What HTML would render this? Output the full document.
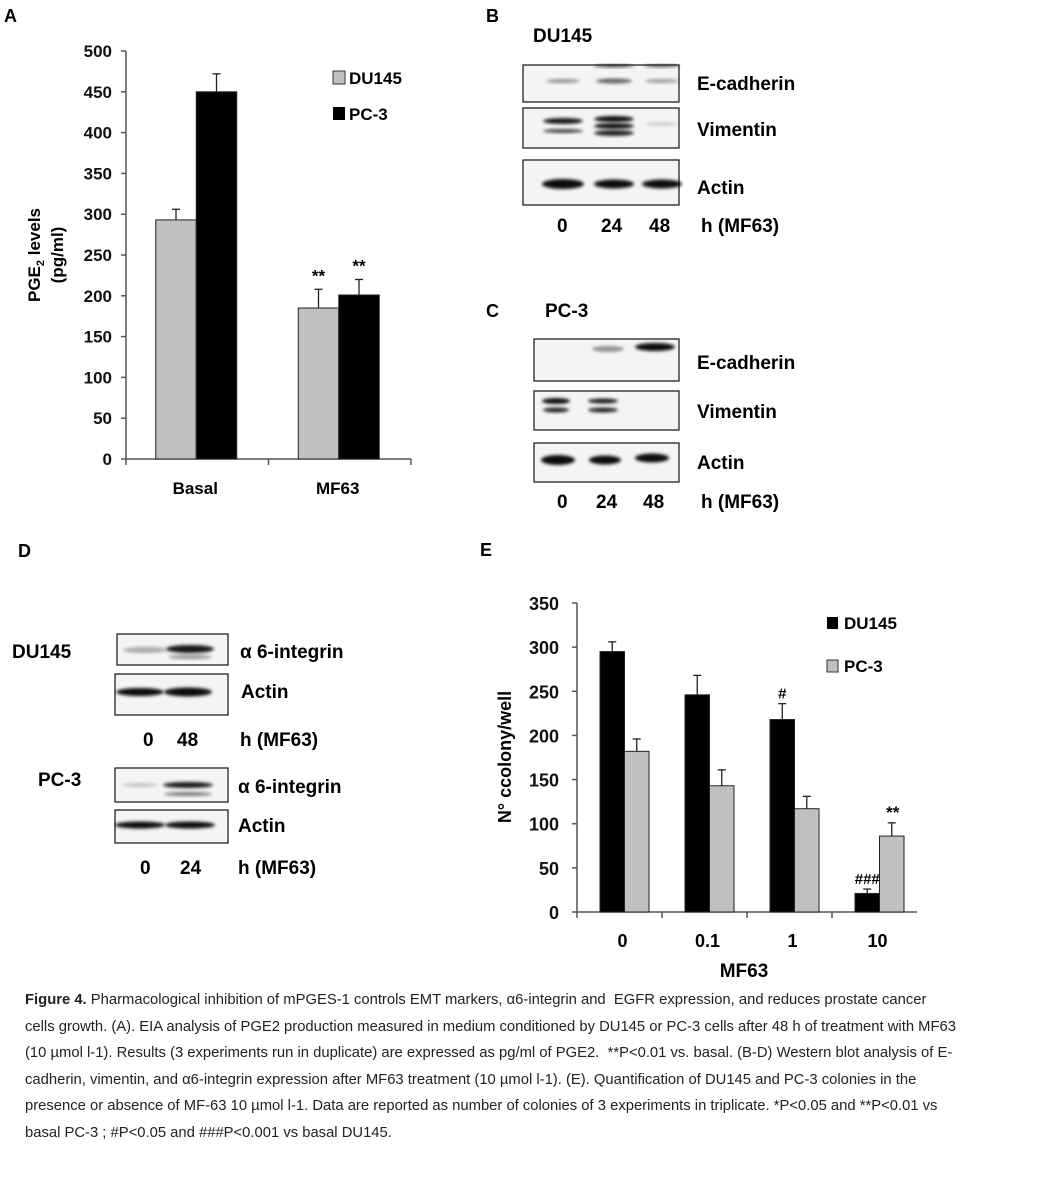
<!DOCTYPE html>
<html><head><meta charset="utf-8"><style>
body{margin:0;background:#fff;width:1048px;height:1181px;overflow:hidden;position:relative;font-family:"Liberation Sans",sans-serif}
svg{position:absolute;left:0;top:0}
.cap{position:absolute;left:25px;font-size:14.8px;color:#222;white-space:nowrap;line-height:17px}
</style></head><body>
<svg id="fig" width="1048" height="1181" font-family="Liberation Sans, sans-serif" font-weight="bold">
<defs><filter id="bl" x="-20%" y="-50%" width="140%" height="200%"><feGaussianBlur stdDeviation="1.6"/></filter></defs>
<g id="chartA"></g>
<g id="chartE"></g>
<g id="blots"></g>
</svg>
<div class="cap" style="top:992px"><b>Figure 4.</b> Pharmacological inhibition of mPGES-1 controls EMT markers, α6-integrin and &nbsp;EGFR expression, and reduces prostate cancer</div>
<div class="cap" style="top:1018.5px">cells growth. (A). EIA analysis of PGE2 production measured in medium conditioned by DU145 or PC-3 cells after 48 h of treatment with MF63</div>
<div class="cap" style="top:1045px">(10 µmol l-1). Results (3 experiments run in duplicate) are expressed as pg/ml of PGE2. &nbsp;**P&lt;0.01 vs. basal. (B-D) Western blot analysis of E-</div>
<div class="cap" style="top:1071.5px">cadherin, vimentin, and α6-integrin expression after MF63 treatment (10 µmol l-1). (E). Quantification of DU145 and PC-3 colonies in the</div>
<div class="cap" style="top:1098px">presence or absence of MF-63 10 µmol l-1. Data are reported as number of colonies of 3 experiments in triplicate. *P&lt;0.05 and **P&lt;0.01 vs</div>
<div class="cap" style="top:1124.5px">basal PC-3 ; #P&lt;0.05 and ###P&lt;0.001 vs basal DU145.</div>
<script>
const NS="http://www.w3.org/2000/svg";
// Panel A data
const aCategories=["Basal","MF63"];
const aDU145=[293,185];
const aDU145Err=[13,23];
const aPC3=[450,201];
const aPC3Err=[22,19];
const aTicks=[0,50,100,150,200,250,300,350,400,450,500];
const aStars=["","**"];
// Panel E data
const eCategories=["0","0.1","1","10"];
const eDU145=[295,246,218,21];
const eDU145Err=[11,22,18,5];
const ePC3=[182,143,117,86];
const ePC3Err=[14,18,14,15];
const eTicks=[0,50,100,150,200,250,300,350];
const eDUMarks=["","","#","###"];
const ePCMarks=["","","","**"];

function el(p,tag,at,txt){const e=document.createElementNS(NS,tag);for(const k in at)e.setAttribute(k,at[k]);if(txt!==undefined)e.textContent=txt;p.appendChild(e);return e;}

// ---- Chart A
(function(){
const g=document.getElementById('chartA');
const x0=126,x1=411,y0=459,yTop=51,max=500;
const y=v=>y0-(v/max)*(y0-yTop);
const gw=(x1-x0)/aCategories.length, bw=40.5;
let t=el(g,'text',{x:4,y:22,'font-size':18},'A');

let ax=el(g,'line',{x1:x0,y1:yTop,x2:x0,y2:y0,stroke:'#555','stroke-width':1.5});

let xa=el(g,'line',{x1:x0,y1:y0,x2:x1,y2:y0,stroke:'#555','stroke-width':1.5});

aTicks.forEach(v=>{
 el(g,'line',{x1:x0-5,y1:y(v),x2:x0,y2:y(v),stroke:'#555','stroke-width':1.5});
 const tl=el(g,'text',{x:x0-14,y:y(v)+6,'font-size':17,'text-anchor':'end',fill:'#111'},v);
 
});
for(let i=0;i<=aCategories.length;i++) el(g,'line',{x1:x0+i*gw,y1:y0,x2:x0+i*gw,y2:y0+6,stroke:'#555','stroke-width':1.5});
aCategories.forEach((c,i)=>{
 const cx=x0+gw*(i+0.5);
 const draw=(v,e,xl,fill,nm)=>{
  const r=el(g,'rect',{x:xl,y:y(v),width:bw,height:y0-y(v),fill:fill,stroke:'#222','stroke-width':1});
  
  const xm=xl+bw/2;
  el(g,'line',{x1:xm,y1:y(v),x2:xm,y2:y(v+e),stroke:'#222','stroke-width':1.3});
  el(g,'line',{x1:xm-4,y1:y(v+e),x2:xm+4,y2:y(v+e),stroke:'#222','stroke-width':1.3});
 };
 draw(aDU145[i],aDU145Err[i],cx-bw-1,'#c0c0c0','bar-du145-'+c.toLowerCase());
 draw(aPC3[i],aPC3Err[i],cx-1,'#000','bar-pc3-'+c.toLowerCase());
 if(aStars[i]!==""){
  el(g,'text',{x:cx-bw/2-1,y:y(aDU145[i]+aDU145Err[i])-8,'font-size':17,'text-anchor':'middle'},aStars[i]);
  el(g,'text',{x:cx+bw/2-1,y:y(aPC3[i]+aPC3Err[i])-8,'font-size':17,'text-anchor':'middle'},aStars[i]);
 }
 const xl=el(g,'text',{x:cx-2,y:494,'font-size':17,'text-anchor':'middle'},c);
 
});
const yt=el(g,'text',{transform:'translate(40,255) rotate(-90)','font-size':17,'text-anchor':'middle'});
el(yt,'tspan',{},'PGE');el(yt,'tspan',{'font-size':11,dy:4},'2');el(yt,'tspan',{dy:-4},' levels');

const yt2=el(g,'text',{transform:'translate(63,255) rotate(-90)','font-size':17,'text-anchor':'middle'},'(pg/ml)');

const l1=el(g,'g',{});
el(l1,'rect',{x:333,y:71,width:12,height:13,fill:'#c0c0c0',stroke:'#333'});
el(l1,'text',{x:349,y:84,'font-size':17},'DU145');
const l2=el(g,'g',{});
el(l2,'rect',{x:333,y:107,width:12,height:13,fill:'#000'});
el(l2,'text',{x:349,y:120,'font-size':17},'PC-3');
})();

// ---- Chart E
(function(){
const g=document.getElementById('chartE');
const x0=577,x1=917,y0=912,yTop=603,max=350;
const y=v=>y0-(v/max)*(y0-yTop);
const gw=(x1-x0)/eCategories.length,bw=24.5;
let t=el(g,'text',{x:480,y:556,'font-size':18},'E');

let ax=el(g,'line',{x1:x0,y1:yTop,x2:x0,y2:y0,stroke:'#555','stroke-width':1.5});

let xa=el(g,'line',{x1:x0,y1:y0,x2:x1,y2:y0,stroke:'#555','stroke-width':1.5});

eTicks.forEach(v=>{
 el(g,'line',{x1:x0-5,y1:y(v),x2:x0,y2:y(v),stroke:'#555','stroke-width':1.5});
 const tl=el(g,'text',{x:x0-18,y:y(v)+7,'font-size':18,'text-anchor':'end',fill:'#111'},v);
 
});
for(let i=0;i<eCategories.length;i++) el(g,'line',{x1:x0+i*gw,y1:y0,x2:x0+i*gw,y2:y0+6,stroke:'#555','stroke-width':1.5});
eCategories.forEach((c,i)=>{
 const cx=x0+gw*(i+0.5)+5;
 const draw=(v,e,xl,fill,nm)=>{
  const r=el(g,'rect',{x:xl,y:y(v),width:bw,height:y0-y(v),fill:fill,stroke:'#222','stroke-width':1});
  
  const xm=xl+bw/2;
  el(g,'line',{x1:xm,y1:y(v),x2:xm,y2:y(v+e),stroke:'#222','stroke-width':1.3});
  el(g,'line',{x1:xm-4,y1:y(v+e),x2:xm+4,y2:y(v+e),stroke:'#222','stroke-width':1.3});
 };
 draw(eDU145[i],eDU145Err[i],cx-bw,'#000','bar-du145-'+i);
 draw(ePC3[i],ePC3Err[i],cx,'#c0c0c0','bar-pc3-'+i);
 if(eDUMarks[i]) el(g,'text',{x:cx-bw/2,y:y(eDU145[i]+eDU145Err[i])-5,'font-size':15,'text-anchor':'middle'},eDUMarks[i]);
 if(ePCMarks[i]) el(g,'text',{x:cx+bw/2+1,y:y(ePC3[i]+ePC3Err[i])-5,'font-size':17,'text-anchor':'middle'},ePCMarks[i]);
 const xl=el(g,'text',{x:cx-2,y:947,'font-size':18,'text-anchor':'middle'},c);
 
});
const xt=el(g,'text',{x:744,y:977,'font-size':19,'text-anchor':'middle'},'MF63');

const yt=el(g,'text',{transform:'translate(511,757) rotate(-90)','font-size':18,'text-anchor':'middle'},'N° ccolony/well');

const l1=el(g,'g',{});
el(l1,'rect',{x:827,y:617,width:11,height:12,fill:'#000'});
el(l1,'text',{x:844,y:629,'font-size':17},'DU145');
const l2=el(g,'g',{});
el(l2,'rect',{x:827,y:660,width:11,height:12,fill:'#c0c0c0',stroke:'#333'});
el(l2,'text',{x:844,y:672,'font-size':17},'PC-3');
})();

// ---- Blots
(function(){
const g=document.getElementById('blots');
function box(x,y,w,h,name,bands){
 const b=el(g,'g',{});
 el(b,'rect',{x:x,y:y,width:w,height:h,fill:'#f4f4f4',stroke:'#222','stroke-width':1.3});
 bands.forEach(bd=>el(b,'ellipse',{cx:bd[0],cy:bd[1],rx:bd[2],ry:bd[3],fill:'#000',opacity:bd[4],filter:'url(#bl)'}));
}
function txt(x,y,s,nm,fs){const t=el(g,'text',{x:x,y:y,'font-size':fs||19},s);}
// B
txt(486,22,'B','panel-b-label',18);
txt(533,42,'DU145','panel-b-cell-line');
box(523,65,156,37,'blot-b-ecadherin',[[563,81,17,2,0.4],[614,81,18,2.5,0.6],[662,81,17,2,0.35],[614,66,20,1.5,0.7],[662,66,18,1.5,0.6]]);
box(523,108,156,40,'blot-b-vimentin',[[563,121,20,3,0.9],[563,131,20,2,0.7],[614,119,20,3,0.95],[614,126,20,3,0.9],[614,133,20,3,0.85],[662,124,16,2,0.15]]);
box(523,160,156,45,'blot-b-actin',[[563,184,21,5,0.95],[614,184,20,4.5,0.95],[662,184,20,4.5,0.95]]);
txt(697,90,'E-cadherin','label-b-ecadherin');txt(697,136,'Vimentin','label-b-vimentin');txt(697,194,'Actin','label-b-actin');
txt(557,232,'0','lane-b-0');txt(601,232,'24','lane-b-24');txt(649,232,'48','lane-b-48');txt(701,232,'h (MF63)','lane-b-unit');
// C
txt(486,317,'C','panel-c-label',18);txt(545,317,'PC-3','panel-c-cell-line');
box(534,339,145,42,'blot-c-ecadherin',[[608,349,16,3,0.4],[655,347,20,4,0.95]]);
box(534,391,145,39,'blot-c-vimentin',[[556,401,14,3,0.95],[556,410,13,2.5,0.85],[603,401,15,2.5,0.9],[603,410,15,2.5,0.85]]);
box(534,443,145,39,'blot-c-actin',[[558,460,17,5,0.95],[605,460,16,4.5,0.95],[652,458,17,4.5,0.95]]);
txt(697,369,'E-cadherin','label-c-ecadherin');txt(697,418,'Vimentin','label-c-vimentin');txt(697,469,'Actin','label-c-actin');
txt(557,508,'0','lane-c-0');txt(596,508,'24','lane-c-24');txt(643,508,'48','lane-c-48');txt(701,508,'h (MF63)','lane-c-unit');
// D
txt(18,557,'D','panel-d-label',18);
txt(12,658,'DU145','panel-d-du145');
box(117,634,111,31,'blot-d-du145-integrin',[[145,650,22,3,0.3],[190,649,24,4,0.9],[190,657,22,2,0.4]]);
box(115,674,113,41,'blot-d-du145-actin',[[140,692,24,4,0.95],[188,692,24,4.5,0.95]]);
txt(240,658,'α 6-integrin','label-d-du145-integrin');txt(241,698,'Actin','label-d-du145-actin');
txt(143,746,'0','lane-d1-0');txt(177,746,'48','lane-d1-48');txt(240,746,'h (MF63)','lane-d1-unit');
txt(38,786,'PC-3','panel-d-pc3');
box(115,768,113,34,'blot-d-pc3-integrin',[[188,785,25,3,0.9],[188,794,24,2,0.5],[140,785,18,2,0.2]]);
box(115,810,113,33,'blot-d-pc3-actin',[[140,825,25,3.5,0.95],[190,825,25,3.5,0.95]]);
txt(238,793,'α 6-integrin','label-d-pc3-integrin');txt(238,832,'Actin','label-d-pc3-actin');
txt(140,874,'0','lane-d2-0');txt(180,874,'24','lane-d2-24');txt(238,874,'h (MF63)','lane-d2-unit');
})();
</script>
</body></html>
